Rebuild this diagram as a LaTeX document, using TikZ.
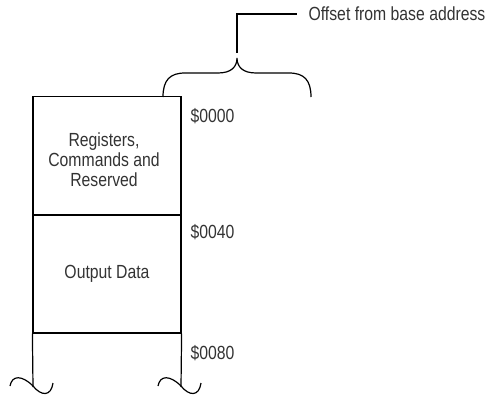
\documentclass[tikz,border=0pt]{standalone}
\usepackage{fontspec}
\setmainfont{Liberation Sans}[FakeStretch=0.83]
\begin{document}
\begin{tikzpicture}[x=1pt,y=-1pt,line width=1.2pt,
  memblk/.style={draw,minimum width=148pt,minimum height=118pt,inner sep=0pt},
  blktext/.style={align=center,inner sep=0pt,text=black!80,font=\fontsize{19}{20}\selectfont},
  addr/.style={anchor=west,inner sep=0pt,text=black!80,font=\fontsize{19}{20}\selectfont}]
\useasboundingbox (0,0) rectangle (487,396);
% memory map
\node[memblk] (regs) at (107,155.5) {};
\node[memblk] (outdata) at (107,274) {};
\node[blktext] (regstext) at (104,160) {Registers,\\Commands and\\Reserved};
\node[blktext] (outtext) at (outdata.center) {Output Data};
\coordinate (bl) at (33,387);
\coordinate (br) at (181,387);
\draw (outdata.south west) -- (bl);
\draw (outdata.south east) -- (br);
% torn ends
\foreach \xx in {33,181}
  \draw (\xx-23,386) .. controls (\xx-21,375) and (\xx-11,375) .. (\xx,386)
        .. controls (\xx+8,396) and (\xx+18,397) .. (\xx+20,383);
% offsets
\node[addr] (a0) at (190,116) {\$0000};
\node[addr] (a1) at (190,232) {\$0040};
\node[addr] (a2) at (190,353) {\$0080};
% brace and leader
\draw (163,97) .. controls (163,80) and (170,73) .. (185,73) -- (218,73)
      .. controls (231,73) and (237,67) .. (237,58)
      .. controls (237,67) and (243,73) .. (256,73) -- (289,73)
      .. controls (304,73) and (311,80) .. (311,97);
\coordinate (tip) at (237,53);
\node[addr] (off) at (308,14) {Offset from base address};
\draw (tip) -- (tip |- off.west) -- ([xshift=-11pt]off.west);
\end{tikzpicture}
\end{document}
